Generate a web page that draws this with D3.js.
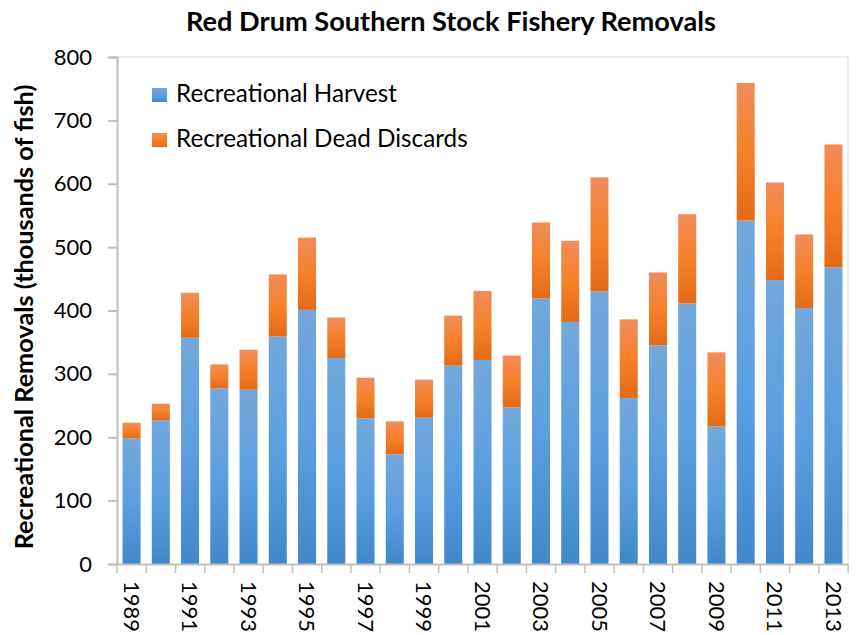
<!DOCTYPE html>
<html><head><meta charset="utf-8">
<script src="https://cdn.jsdelivr.net/npm/d3@7"></script>
<style>body{margin:0;background:#fff}svg{display:block}</style>
</head><body><svg id="c" width="856" height="635"></svg>
<script>
const years = [1989,1990,1991,1992,1993,1994,1995,1996,1997,1998,1999,2000,2001,2002,2003,2004,2005,2006,2007,2008,2009,2010,2011,2012,2013];
const harvest = [198,227,357,277,275,359,401,325,230,173,231,313,322,247,419,382,430,262,345,411,217,542,448,404,468];
const deadDiscards = [25,26,71,38,63,98,114,64,64,52,60,79,109,82,120,128,180,124,115,141,117,217,154,116,194];
const yTicks = [0,100,200,300,400,500,600,700,800];
const seriesNames = ["Recreational Harvest","Recreational Dead Discards"];
const title = "Red Drum Southern Stock Fishery Removals";
const yTitle = "Recreational Removals (thousands of fish)";

const svg = d3.select("#c");
const FONT = "Lato, 'Open Sans', sans-serif";
const L=117, R=848, T=57, B=564;

const defs = svg.append("defs");
function grad(id, stops){
  const g = defs.append("linearGradient").attr("id",id).attr("x1",0).attr("y1",0).attr("x2",0).attr("y2",1);
  stops.forEach(s=>g.append("stop").attr("offset",s[0]).attr("stop-color",s[1]));
}
grad("gBlue",[[0,"#73a8db"],[0.5,"#5b9fe0"],[1,"#4288c9"]]);
grad("gOrange",[[0,"#f08d5a"],[0.5,"#f6812a"],[1,"#e36a18"]]);

const x = d3.scaleBand().domain(years).range([L,R]).paddingInner(0.384).paddingOuter(0.19);
const y = d3.scaleLinear().domain([0,800]).range([B,T]);

function fit(sel, w){
  const n = sel.node(); const cur = n.getComputedTextLength();
  const fs = parseFloat(sel.attr("font-size"));
  sel.attr("font-size", fs*w/cur);
}

// frame
svg.append("line").attr("x1",L).attr("x2",R).attr("y1",T).attr("y2",T).attr("stroke","#d9d9d9").attr("stroke-width",1);
svg.append("line").attr("x1",R).attr("x2",R).attr("y1",T).attr("y2",B).attr("stroke","#d9d9d9").attr("stroke-width",1);

const data = years.map((yr,i)=>({yr, h:harvest[i], d:deadDiscards[i]}));
const g = svg.append("g");
g.selectAll("rect.h").data(data).join("rect").attr("class","h")
  .attr("x",d=>x(d.yr)).attr("width",x.bandwidth())
  .attr("y",d=>y(d.h)).attr("height",d=>y(0)-y(d.h)).attr("fill","url(#gBlue)");
g.selectAll("rect.d").data(data).join("rect").attr("class","d")
  .attr("x",d=>x(d.yr)).attr("width",x.bandwidth())
  .attr("y",d=>y(d.h+d.d)).attr("height",d=>y(d.h)-y(d.h+d.d)).attr("fill","url(#gOrange)");

// y axis
const ya = svg.append("g").attr("transform",`translate(${L},0)`)
  .call(d3.axisLeft(y).tickValues(yTicks).tickSize(9).tickPadding(16));
ya.select(".domain").attr("stroke","#bfbfbf").attr("stroke-width",2);
ya.selectAll(".tick line").attr("stroke","#bfbfbf").attr("stroke-width",2);
ya.selectAll(".tick text").attr("font-family",FONT).attr("font-size",22).attr("fill","#000");

// x axis
const xa = svg.append("g").attr("transform",`translate(0,${B})`)
  .call(d3.axisBottom(x).tickSize(0).tickFormat(d=> (d%2===1)? String(d):""));
xa.select(".domain").attr("stroke","#bfbfbf").attr("stroke-width",2);
xa.selectAll(".tick text").attr("font-family",FONT).attr("font-size",22).attr("fill","#000")
  .attr("transform","rotate(90)").attr("text-anchor","start").attr("dy","0.35em").attr("x",17).attr("y",0);
const step = x.step();
const bounds = d3.range(years.length+1).map(i=>L+i*step);
svg.append("g").selectAll("line").data(bounds).join("line")
  .attr("x1",d=>d).attr("x2",d=>d).attr("y1",B).attr("y2",B+9).attr("stroke","#bfbfbf").attr("stroke-width",1.5);

// title
const t = svg.append("text").attr("x",451).attr("y",31).attr("text-anchor","middle")
  .attr("font-family",FONT).attr("font-weight","bold").attr("font-size",23).text(title);
fit(t,530);

// y title
const yt = svg.append("text").attr("transform","translate(33,317) rotate(-90)").attr("text-anchor","middle")
  .attr("font-family",FONT).attr("font-weight","bold").attr("font-size",20).text(yTitle);
fit(yt,465);

// legend
const lg = svg.append("g");
const lrows = [{n:seriesNames[0],f:"url(#gBlue)",yb:102,w:221},{n:seriesNames[1],f:"url(#gOrange)",yb:147,w:292}];
lrows.forEach(r=>{
  lg.append("rect").attr("x",152).attr("y",r.yb-14).attr("width",15).attr("height",14).attr("fill",r.f);
  const tx = lg.append("text").attr("x",176).attr("y",r.yb).attr("font-family",FONT).attr("font-size",20).text(r.n);
  fit(tx,r.w);
});
</script></body></html>
